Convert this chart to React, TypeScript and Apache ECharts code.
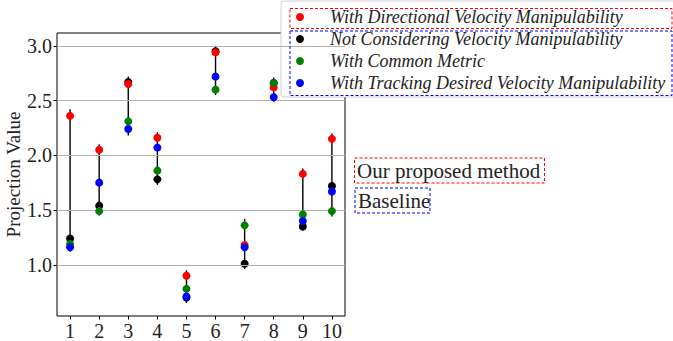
import React, { useEffect, useRef } from "react";
import * as echarts from "echarts";

const categories = [1, 2, 3, 4, 5, 6, 7, 8, 9, 10];
const yTicks = [1.0, 1.5, 2.0, 2.5, 3.0];

const directional = [2.36, 2.05, 2.65, 2.16, 0.9, 2.94, 1.18, 2.62, 1.83, 2.15];
const notConsidering = [1.24, 1.54, 2.67, 1.78, 0.7, 2.95, 1.01, 2.66, 1.35, 1.72];
const commonMetric = [1.19, 1.49, 2.31, 1.86, 0.78, 2.6, 1.36, 2.66, 1.46, 1.49];
const tracking = [1.16, 1.75, 2.24, 2.07, 0.71, 2.72, 1.16, 2.53, 1.4, 1.67];

const barLow = [1.12, 1.45, 2.18, 1.73, 0.65, 2.55, 0.96, 2.49, 1.31, 1.44];
const barHigh = [2.42, 2.1, 2.72, 2.21, 0.95, 3.0, 1.42, 2.71, 1.88, 2.2];

const names = {
  dir: "With Directional Velocity Manipulability",
  not: "Not Considering Velocity Manipulability",
  com: "With Common Metric",
  trk: "With Tracking Desired Velocity Manipulability",
};

const SERIF = "'Liberation Serif', 'DejaVu Serif', serif";

export default function App() {
  const ref = useRef<HTMLDivElement>(null);
  useEffect(() => {
    if (!ref.current) return;
    const chart = echarts.init(ref.current, null, { renderer: "svg" });
    const pts = (arr: number[]) => categories.map((c, i) => [c, arr[i]]);
    const scatter = (name: string, arr: number[], color: string, z: number) => ({
      name,
      type: "scatter",
      data: pts(arr),
      symbol: "circle",
      symbolSize: 8,
      itemStyle: { color, opacity: 1 },
      z,
    });
    chart.setOption({
      animation: false,
      grid: {
        left: 57,
        top: 33,
        width: 288,
        height: 288,
        show: true,
        borderColor: "#000",
        borderWidth: 1,
        backgroundColor: "transparent",
      },
      xAxis: {
        type: "value",
        min: 0.55,
        max: 10.45,
        axisLine: { show: false },
        axisTick: {
          show: true,
          customValues: categories,
          length: 3.5,
          lineStyle: { color: "#000", width: 1 },
        },
        splitLine: { show: false },
        axisLabel: {
          customValues: categories,
          formatter: (v: number) => String(v),
          fontSize: 20,
          fontFamily: SERIF,
          color: "#222",
          margin: 5,
        },
      },
      yAxis: {
        type: "value",
        min: 0.532,
        max: 3.117,
        name: "Projection Value",
        nameLocation: "middle",
        nameGap: 32,
        nameTextStyle: { fontSize: 19, fontFamily: SERIF, color: "#222" },
        axisLine: { show: false },
        axisTick: {
          show: true,
          customValues: yTicks,
          length: 3.5,
          lineStyle: { color: "#000", width: 1 },
        },
        splitLine: { show: false },
        axisLabel: {
          customValues: yTicks,
          formatter: (v: number) => v.toFixed(1),
          fontSize: 20,
          fontFamily: SERIF,
          color: "#222",
          margin: 5,
        },
      },
      legend: {
        data: [names.dir, names.not, names.com, names.trk],
        orient: "vertical",
        left: 281,
        top: 1,
        padding: [7, 12, 5, 15],
        itemGap: 4,
        itemWidth: 8,
        itemHeight: 8,
        icon: "circle",
        backgroundColor: "#fff",
        borderColor: "#d0d0d0",
        borderWidth: 1,
        borderRadius: 3,
        textStyle: {
          fontSize: 18,
          fontStyle: "italic",
          fontFamily: SERIF,
          color: "#222",
          lineHeight: 18,
          padding: [0, 0, 0, 21],
        },
      },
      series: [
        {
          type: "scatter",
          data: [],
          silent: true,
          z: 0,
          markLine: {
            silent: true,
            symbol: ["none", "none"],
            label: { show: false },
            lineStyle: { color: "#b0b0b0", width: 1, type: "solid" },
            data: yTicks.map((v) => ({ yAxis: v })),
          },
        },
        {
          type: "custom",
          silent: true,
          z: 1,
          data: categories.map((c, i) => [c, barLow[i], barHigh[i]]),
          renderItem: (params: any, api: any) => {
            const p1 = api.coord([api.value(0), api.value(1)]);
            const p2 = api.coord([api.value(0), api.value(2)]);
            return {
              type: "line",
              shape: { x1: p1[0], y1: p1[1], x2: p2[0], y2: p2[1] },
              style: { stroke: "#000", lineWidth: 1.4 },
            };
          },
        },
        scatter(names.not, notConsidering, "#000000", 3),
        scatter(names.dir, directional, "#ff0000", 4),
        scatter(names.com, commonMetric, "#008000", 5),
        scatter(names.trk, tracking, "#0000ff", 6),
      ],
      graphic: [
        {
          type: "rect",
          z: 100,
          silent: true,
          shape: { x: 290, y: 8.5, width: 382, height: 20 },
          style: { fill: "none", stroke: "#ff0000", lineWidth: 1, lineDash: [3, 2] },
        },
        {
          type: "rect",
          z: 100,
          silent: true,
          shape: { x: 290, y: 31, width: 382, height: 64.5 },
          style: { fill: "none", stroke: "#0000ff", lineWidth: 1, lineDash: [3, 2] },
        },
        {
          type: "rect",
          z: 100,
          silent: true,
          shape: { x: 354.5, y: 158, width: 190, height: 25 },
          style: { fill: "none", stroke: "#ff0000", lineWidth: 1, lineDash: [3, 2] },
        },
        {
          type: "text",
          z: 100,
          silent: true,
          style: {
            text: "Our proposed method",
            x: 357,
            y: 171,
            verticalAlign: "middle",
            fill: "#222",
            fontSize: 21,
            fontFamily: SERIF,
          },
        },
        {
          type: "rect",
          z: 100,
          silent: true,
          shape: { x: 355, y: 188, width: 75, height: 25 },
          style: { fill: "none", stroke: "#0000ff", lineWidth: 1, lineDash: [3, 2] },
        },
        {
          type: "text",
          z: 100,
          silent: true,
          style: {
            text: "Baseline",
            x: 358,
            y: 201,
            verticalAlign: "middle",
            fill: "#222",
            fontSize: 21,
            fontFamily: SERIF,
          },
        },
      ],
    });
    return () => chart.dispose();
  }, []);
  return (
    <div
      ref={ref}
      style={{ position: "fixed", left: 0, top: 0, width: 673, height: 341, background: "#fff" }}
    />
  );
}
